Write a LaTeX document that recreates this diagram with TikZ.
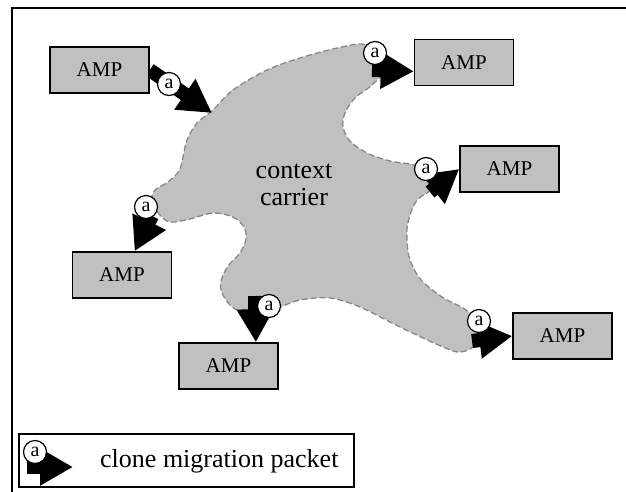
\documentclass[tikz,border=0pt]{standalone}
\usepackage{fontspec}
\setmainfont{Liberation Serif}
\usetikzlibrary{arrows.meta,backgrounds}
\pgfdeclarelayer{mid}
\pgfsetlayers{background,mid,main}
\definecolor{fillgray}{HTML}{C0C0C0}
\definecolor{dashgray}{HTML}{888888}
\tikzset{
 amp/.style={draw=black, line width=1.5pt, fill=fillgray, minimum width=99pt, minimum height=46pt, inner sep=0pt, font=\fontsize{21}{24}\selectfont},
 tag/.style={circle, draw=black, line width=1.2pt, fill=white, minimum size=23pt, inner sep=0pt, font=\fontsize{20}{20}\selectfont},
 packet/.style={line width=14pt, -{Triangle[length=33pt,width=35pt]}},
 blob/.style={fill=fillgray, draw=dashgray, line width=1.3pt, dash pattern=on 6pt off 3pt},
 frame/.style={draw=black, line width=1.5pt},
 label/.style={inner sep=0pt, font=\fontsize{26}{27}\selectfont},
}
\begin{document}
\begin{tikzpicture}[x=1pt,y=-1pt]
\useasboundingbox (0,0) rectangle (626,491);

% context carrier blob
\begin{pgfonlayer}{background}
\fill[white] (0,0) rectangle (626,491);
\draw[blob] plot[smooth cycle, tension=0.55] coordinates {
 (213,110) (233,90) (267,70) (300,58) (333,49) (362,44) (378,52) (384,70)
 (372,85) (355,98) (345,113) (343,127) (350,141) (367,153) (390,161) (414,165)
 (430,174) (430,190) (418,199) (411,212) (407,229) (408,252) (413,267) (422,281)
 (442,297) (466,310) (478,325) (476,344) (461,352) (443,347) (400,327) (360,307)
 (330,298) (300,300) (280,307) (262,311) (243,312) (231,306) (222,293) (221,281)
 (228,266) (240,253) (246,239) (244,227) (233,217) (213,213) (190,219) (170,222)
 (159,214) (152,201) (155,190) (168,182) (179,171) (183,157) (187,140) (197,123)
};
\end{pgfonlayer}
\draw[frame] (12,8) rectangle (640,505);
\node[label, align=center] (cc) at (294,185) {context\\carrier};

% AMP boxes
\node[amp] (a1) at (99.5,70) {AMP};
\node[amp] (a2) at (464,62.5) {AMP};
\node[amp] (a3) at (509.5,169) {AMP};
\node[amp] (a4) at (122,275) {AMP};
\node[amp] (a5) at (228.5,366) {AMP};
\node[amp] (a6) at (562.5,336) {AMP};

% packet ends on the carrier
\coordinate (p1) at (212,113);
\coordinate (p2) at (372,70);
\coordinate (p3) at (430,192);
\coordinate (p4) at (152,216);
\coordinate (p5) at (255,296);
\coordinate (p6) at (472,341);

\begin{pgfonlayer}{mid}
\draw[packet] (a1.east) -- (p1);
\draw[packet] (p2) -- (a2.190);
\draw[packet] (p3) -- (a3.west);
\draw[packet] (p4) -- (a4.62);
\draw[packet] (p5) -- (a5.41);
\draw[packet] (p6) -- (a6.west);
\end{pgfonlayer}

\node[tag] (t1) at (169,84) {a};
\node[tag] (t2) at (375,53) {a};
\node[tag] (t3) at (426,169) {a};
\node[tag] (t4) at (146,207) {a};
\node[tag] (t5) at (269,306) {a};
\node[tag] (t6) at (479,321) {a};

% legend
\node[draw=black, line width=1.5pt, minimum width=335pt, minimum height=53pt, inner sep=0pt] (leg) at (186.5,460.5) {};
\coordinate (l1) at (27,467);
\coordinate (l2) at (73,467);
\begin{pgfonlayer}{mid}
\draw[packet] (l1) -- (l2);
\end{pgfonlayer}
\node[tag] (lt) at (35,452) {a};
\node[label, anchor=west] (lx) at (100,461) {clone migration packet};
\end{tikzpicture}
\end{document}
